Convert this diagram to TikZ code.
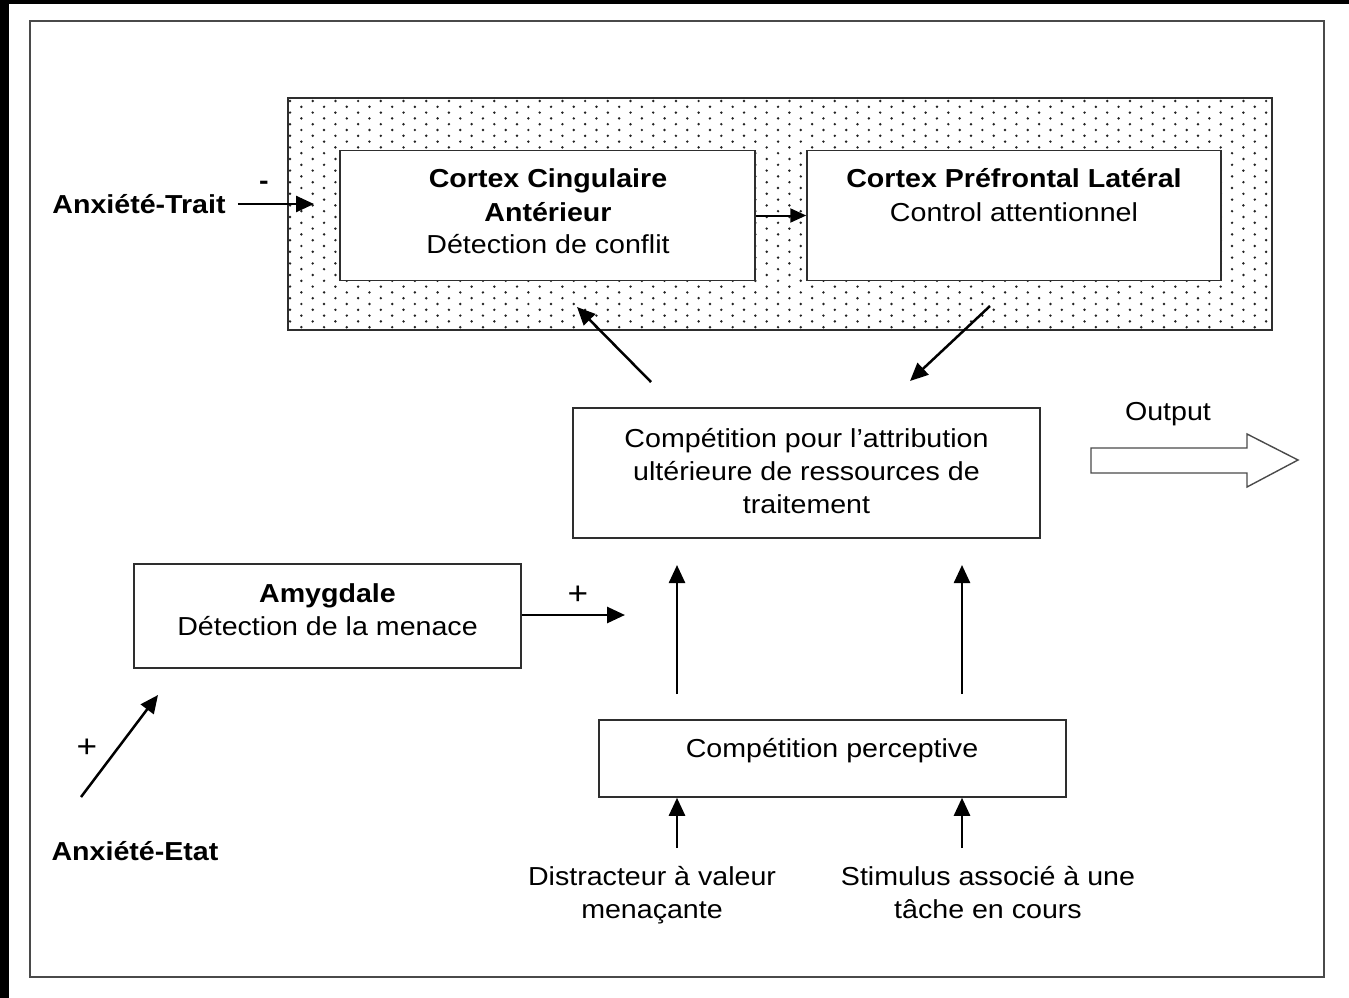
\documentclass[tikz,border=0pt]{standalone}
\usepackage{fontspec}
\setmainfont{Liberation Sans}[FakeStretch=1.1]
\usetikzlibrary{arrows.meta}
\definecolor{boxc}{HTML}{2E2E2E}
\definecolor{framec}{HTML}{4A4A4A}
\definecolor{dotc}{HTML}{222222}
\begin{document}
\begin{tikzpicture}[x=1pt,y=-1pt,
  box/.style={draw=boxc, line width=1.5pt, fill=white, inner sep=0pt},
  txt/.style={inner sep=0pt, align=center, anchor=base, font=\fontsize{26}{33}\selectfont},
  btxt/.style={inner sep=0pt, align=center, anchor=base, font=\fontsize{26}{33}\selectfont\bfseries},
  sign/.style={inner sep=0pt, font=\fontsize{32}{34}\selectfont\rmfamily},
  arr/.style={draw=black, line width=2.5pt, -{Triangle[length=18pt,width=16pt]}},
  arrthin/.style={draw=black, line width=2pt, -{Triangle[length=16pt,width=14pt]}}]
\useasboundingbox (0,0) rectangle (1349,998);
\fill[white] (0,0) rectangle (1349,998);
% black scan borders
\fill[black] (0,0) rectangle (9,998);
\fill[black] (0,0) rectangle (1349,4);
% outer frame
\draw[framec, line width=2.2pt] (30,21) rectangle (1324,977);
% dotted zone
\begin{scope}
  \clip (288,98) rectangle (1272,330);
  \foreach \r [evaluate=\r as \yy using {101+\r*5.8}, evaluate=\r as \off using {mod(\r,2)*11.35}] in {0,...,39} {
    \foreach \c in {0,...,43} {
      \fill[dotc] (290+\off+\c*22.7, \yy) circle (1.35);
    }
  }
\end{scope}
\node[draw=boxc, line width=1.5pt, inner sep=0pt, minimum width=984pt, minimum height=232pt] (zone) at (780,214) {};
% boxes
\node[box, minimum width=415pt, minimum height=130pt] (acc) at (547.5,215.5) {};
\node[box, minimum width=414pt, minimum height=130pt] (lpfc) at (1014,215.5) {};
\node[box, minimum width=467pt, minimum height=130pt] (comp) at (806.5,473) {};
\node[box, minimum width=387pt, minimum height=104pt] (amy) at (327.5,616) {};
\node[box, minimum width=467pt, minimum height=77pt] (perc) at (832.5,758.5) {};
% texts
\node[btxt] (accT1) at (548,187) {Cortex Cingulaire};
\node[btxt] (accT2) at (548,221) {Antérieur};
\node[txt] (accT3) at (548,253) {Détection de conflit};
\node[btxt] (lpfcT1) at (1014,187) {Cortex Préfrontal Latéral};
\node[txt] (lpfcT2) at (1014,221) {Control attentionnel};
\node[txt] (compT) at (806.5,513) {Compétition pour l’attribution\\ultérieure de ressources de\\traitement};
\node[txt] (percT) at (832,757) {Compétition perceptive};
\node[btxt] (amyT1) at (327.5,602) {Amygdale};
\node[txt] (amyT2) at (327.5,635) {Détection de la menace};
\node[btxt] (trait) at (139,213) {Anxiété-Trait};
\node[btxt] (etat) at (135,860) {Anxiété-Etat};
\node[txt] (distr) at (652,918) {Distracteur à valeur\\menaçante};
\node[txt] (stim) at (988,918) {Stimulus associé à une\\tâche en cours};
\node[txt] (outT) at (1168,420) {Output};
\node[btxt] (minus) at (264,189) {-};
\node[sign] (plus1) at (578,595) {+};
\node[sign] (plus2) at (87,748) {+};
% output block arrow
\draw[framec, line width=1.4pt, fill=white] (1091,448) -- (1247,448) -- (1247,434) -- (1298,460) -- (1247,487) -- (1247,473) -- (1091,473) -- cycle;
% connectors
\coordinate (trE) at (314,204);
\draw[arr] ([xshift=12pt]trE -| trait.east) -- (trE);
\draw[arrthin] (acc.east) -- (lpfc.west);
\coordinate (a1s) at (651,382); \coordinate (a1e) at (577,307);
\draw[arr] (a1s) -- (a1e);
\coordinate (a2s) at (990,306); \coordinate (a2e) at (910,381);
\draw[arr] (a2s) -- (a2e);
\coordinate (a3e) at (625,615);
\draw[arr, line width=2.8pt] (amy.east |- a3e) -- (a3e);
\coordinate (a4s) at (81,797); \coordinate (a4e) at (158,695);
\draw[arr] (a4s) -- (a4e);
\coordinate (u1s) at (677,694); \coordinate (u1e) at (677,565);
\coordinate (u2s) at (962,694); \coordinate (u2e) at (962,565);
\draw[arr] (u1s) -- (u1e);
\draw[arr] (u2s) -- (u2e);
\coordinate (l1s) at (677,848); \coordinate (l2s) at (962,848);
\draw[arr] (l1s) -- (l1s |- perc.south);
\draw[arr] (l2s) -- (l2s |- perc.south);
\end{tikzpicture}
\end{document}
